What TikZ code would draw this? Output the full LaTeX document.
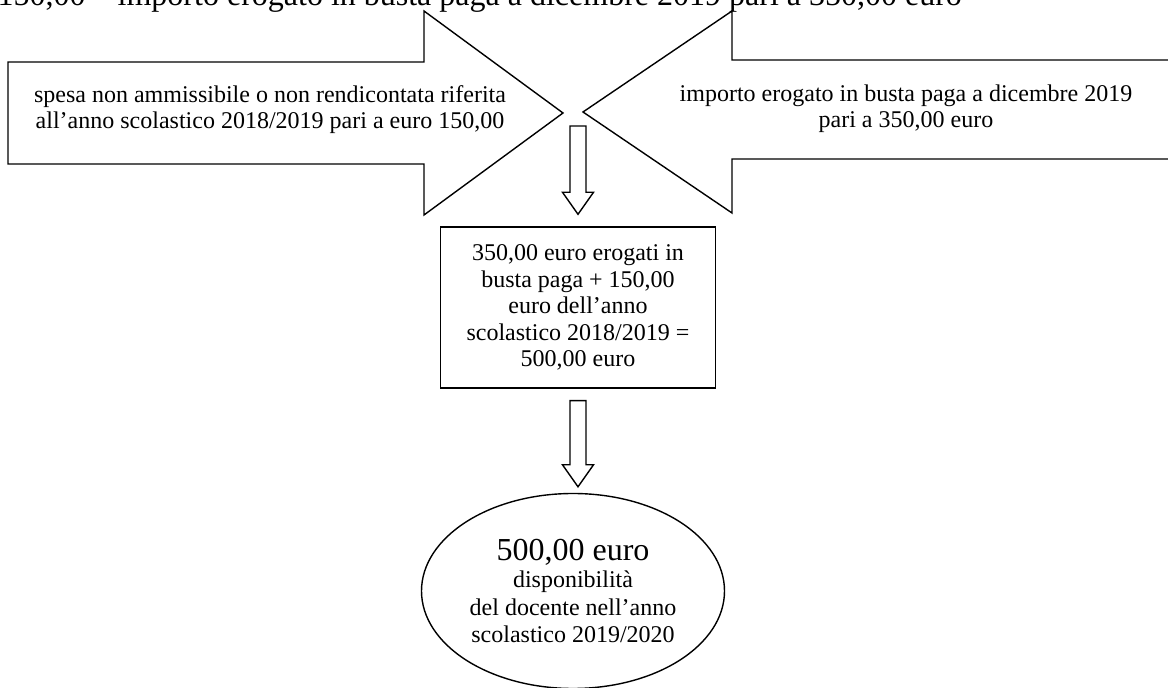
\documentclass[tikz,border=0pt]{standalone}
\usepackage{fontspec}
\setmainfont{Liberation Serif}
\usetikzlibrary{calc,shapes.geometric}
% hollow block arrow pointing down, from a top centre to a tip
\newcommand{\hollowdown}[2]{%
  \draw let \p1=(#1), \p2=(#2) in
    (\x1-4pt,\y1) -- (\x1+4pt,\y1) -- (\x1+4pt,\y2+11pt) -- (\x1+7.75pt,\y2+11pt)
    -- (\x1,\y2) -- (\x1-7.75pt,\y2+11pt) -- (\x1-4pt,\y2+11pt) -- cycle;}

\begin{document}
\begin{tikzpicture}[x=0.5pt, y=-0.5pt, line width=0.7pt, line join=miter,
  txt/.style={font=\fontsize{12}{13}\selectfont, align=center, inner sep=0pt},
  sumbox/.style={draw, align=center, inner sep=0pt, font=\fontsize{12}{13.25}\selectfont,
    minimum width=137.5pt, minimum height=80.5pt},
  result/.style={draw, ellipse, align=center, inner sep=0pt, font=\fontsize{12}{13.75}\selectfont,
    minimum width=151.5pt, minimum height=97.5pt}]
  \clip (0,0) rectangle (1168,688);
  % ---------------------------------------------------------------- heading, cut by the top edge
  \node[anchor=base west, inner sep=0pt, font=\fontsize{16}{18}\selectfont] (title) at (-3,6)
    {150,00 – importo erogato in busta paga a dicembre 2019 pari a 350,00 euro};
  % ---------------------------------------------------------------- the two block arrows
  \draw (8,62) -- (424,62) -- (424,11) -- (563,113) -- (424,215) -- (424,164) -- (8,164) -- cycle;
  \draw (1175,60) -- (732,60) -- (732,11) -- (583,112) -- (732,213) -- (732,159) -- (1175,159) -- cycle;
  \node[txt] (spesa) at (270,110)
    {spesa non ammissibile o non rendicontata riferita\\all’anno scolastico 2018/2019 pari a euro 150,00};
  \node[txt] (importo) at (906,109)
    {importo erogato in busta paga a dicembre 2019\\pari a 350,00 euro};
  % ---------------------------------------------------------------- the sum, and the result
  \node[sumbox] (somma) at (578,307.5)
    {350,00 euro erogati in\\busta paga + 150,00\\euro dell’anno\\scolastico 2018/2019 =\\500,00 euro};
  \node[result] (totale) at (573,591)
    {{\fontsize{16}{18}\selectfont 500,00 euro}\\disponibilità\\del docente nell’anno\\scolastico 2019/2020};
  % ---------------------------------------------------------------- hollow arrows down
  \coordinate (meet) at (578,126);
  \hollowdown{meet}{$(somma.north)+(0,-12)$}
  \hollowdown{$(somma.south)+(0,12)$}{$(totale.north)+(5,-6)$}
\end{tikzpicture}
\end{document}
